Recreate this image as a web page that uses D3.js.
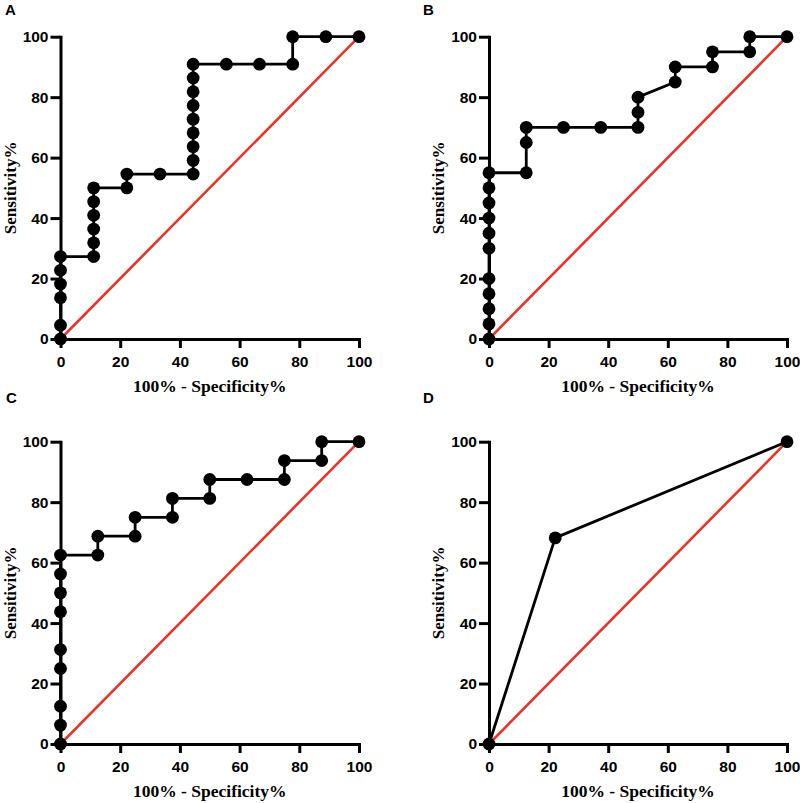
<!DOCTYPE html>
<html>
<head>
<meta charset="utf-8">
<script src="https://cdn.jsdelivr.net/npm/d3@7"></script>
<style>
  html, body { margin: 0; padding: 0; background: #fff; }
  svg { display: block; }
</style>
</head>
<body>
<svg id="chart" width="800" height="803"></svg>
<script>
// ---------------- DATA ----------------
const panelLabels = ["A", "B", "C", "D"];
const xTickValues = [0, 20, 40, 60, 80, 100];
const yTickValues = [0, 20, 40, 60, 80, 100];
const xTitle = "100% - Specificity%";
const yTitle = "Sensitivity%";

// Panel A (100% - Specificity%, Sensitivity%)
const rocA_x = [0, 0, 0, 0, 0, 0, 11.11, 11.11, 11.11, 11.11, 11.11, 11.11, 22.22, 22.22, 33.33, 44.44, 44.44, 44.44, 44.44, 44.44, 44.44, 44.44, 44.44, 44.44, 55.56, 66.67, 77.78, 77.78, 88.89, 100];
const rocA_y = [0, 4.55, 13.64, 18.18, 22.73, 27.27, 27.27, 31.82, 36.36, 40.91, 45.45, 50, 50, 54.55, 54.55, 54.55, 59.09, 63.64, 68.18, 72.73, 77.27, 81.82, 86.36, 90.91, 90.91, 90.91, 90.91, 100, 100, 100];

// Panel B
const rocB_x = [0, 0, 0, 0, 0, 0, 0, 0, 0, 0, 0, 12.5, 12.5, 12.5, 25, 37.5, 50, 50, 50, 62.5, 62.5, 75, 75, 87.5, 87.5, 100];
const rocB_y = [0, 5, 10, 15, 20, 30, 35, 40, 45, 50, 55, 55, 65, 70, 70, 70, 70, 75, 80, 85, 90, 90, 95, 95, 100, 100];

// Panel C
const rocC_x = [0, 0, 0, 0, 0, 0, 0, 0, 0, 12.5, 12.5, 25, 25, 37.5, 37.5, 50, 50, 62.5, 75, 75, 87.5, 87.5, 100];
const rocC_y = [0, 6.25, 12.5, 25, 31.25, 43.75, 50, 56.25, 62.5, 62.5, 68.75, 68.75, 75, 75, 81.25, 81.25, 87.5, 87.5, 87.5, 93.75, 93.75, 100, 100];

// Panel D
const rocD_x = [0, 22.22, 100];
const rocD_y = [0, 68.18, 100];

const refLine_x = [0, 100];
const refLine_y = [0, 100];

// ---------------- LAYOUT ----------------
const panels = [
  { label: panelLabels[0], xs: rocA_x, ys: rocA_y, left: 60.5, right: 359, top: 36.7, bottom: 339, lx: 5, ly: 15 },
  { label: panelLabels[1], xs: rocB_x, ys: rocB_y, left: 489, right: 787, top: 36.7, bottom: 339, lx: 423, ly: 15 },
  { label: panelLabels[2], xs: rocC_x, ys: rocC_y, left: 60.5, right: 359, top: 441.7, bottom: 744, lx: 6, ly: 403 },
  { label: panelLabels[3], xs: rocD_x, ys: rocD_y, left: 489, right: 787, top: 441.7, bottom: 744, lx: 423, ly: 403 }
];

const RED = "#e8342b";
const sansBold = "'Liberation Sans', Arial, sans-serif";
const serifBold = "'Liberation Serif', 'Times New Roman', serif";

const svg = d3.select("#chart");

panels.forEach(p => {
  const x = d3.scaleLinear().domain([0, 100]).range([p.left, p.right]);
  const y = d3.scaleLinear().domain([0, 100]).range([p.bottom, p.top]);
  const g = svg.append("g");

  // panel letter
  g.append("text")
    .attr("x", p.lx).attr("y", p.ly)
    .attr("font-family", sansBold).attr("font-weight", "bold")
    .attr("font-size", 15).attr("fill", "#000")
    .text(p.label);

  // axes
  const xAxis = d3.axisBottom(x).tickValues(xTickValues).tickSizeInner(9).tickSizeOuter(0).tickPadding(8);
  const yAxis = d3.axisLeft(y).tickValues(yTickValues).tickSizeInner(10).tickSizeOuter(0).tickPadding(2);

  const gx = g.append("g").attr("transform", `translate(0,${p.bottom})`).call(xAxis);
  const gy = g.append("g").attr("transform", `translate(${p.left},0)`).call(yAxis);
  [gx, gy].forEach(a => {
    a.select(".domain").attr("stroke", "#000").attr("stroke-width", 3).attr("stroke-linecap", "square");
    a.selectAll(".tick line").attr("stroke", "#000").attr("stroke-width", 3);
    a.selectAll(".tick text")
      .attr("font-family", sansBold).attr("font-weight", "bold")
      .attr("font-size", 15.5).attr("fill", "#000");
  });

  // axis titles
  g.append("text")
    .attr("x", (p.left + p.right) / 2).attr("y", p.bottom + 53)
    .attr("text-anchor", "middle")
    .attr("font-family", serifBold).attr("font-weight", "bold")
    .attr("font-size", 17.5).attr("fill", "#000")
    .text(xTitle);
  g.append("text")
    .attr("transform", `translate(${p.left - 45},${(p.top + p.bottom) / 2}) rotate(-90)`)
    .attr("text-anchor", "middle")
    .attr("font-family", serifBold).attr("font-weight", "bold")
    .attr("font-size", 17).attr("fill", "#000")
    .text(yTitle);

  // reference diagonal
  const refData = refLine_x.map((v, i) => [v, refLine_y[i]]);
  g.append("path")
    .datum(refData)
    .attr("d", d3.line().x(d => x(d[0])).y(d => y(d[1])))
    .attr("fill", "none").attr("stroke", RED).attr("stroke-width", 2.6);

  // ROC curve
  const data = p.xs.map((v, i) => [v, p.ys[i]]);
  g.append("path")
    .datum(data)
    .attr("d", d3.line().x(d => x(d[0])).y(d => y(d[1])))
    .attr("fill", "none").attr("stroke", "#000").attr("stroke-width", 2.8)
    .attr("stroke-linejoin", "round");

  g.selectAll("circle.pt")
    .data(data)
    .join("circle")
    .attr("class", "pt")
    .attr("cx", d => x(d[0])).attr("cy", d => y(d[1]))
    .attr("r", 6.4).attr("fill", "#000");
});
</script>
</body>
</html>
